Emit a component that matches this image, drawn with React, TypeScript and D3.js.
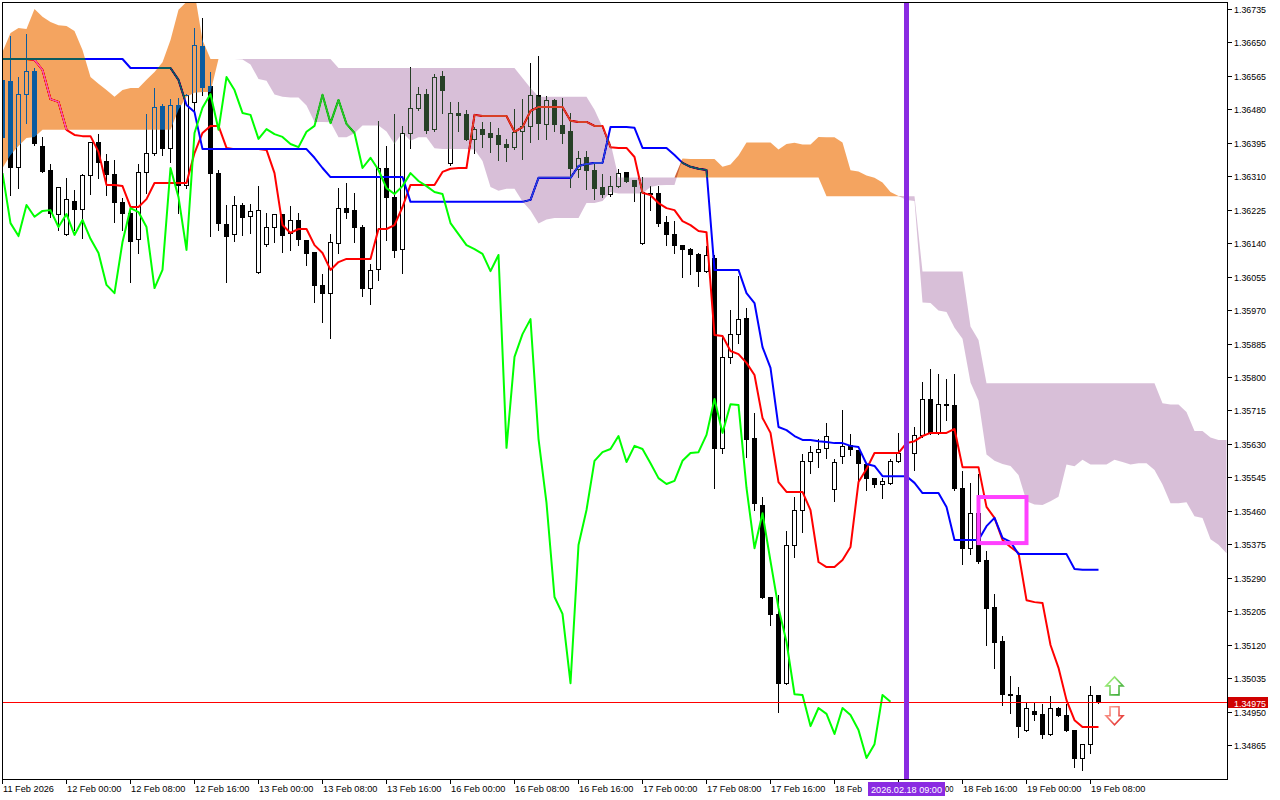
import React from "react";
import * as d3 from "d3";

// ---------- DATA (H1 bars, 11 Feb 2026 16:00 -> 19 Feb 2026 09:00) ----------
const OPEN = [
  1.36555,1.36552,1.36334,1.36519,1.36578,1.36387,1.36326,1.36214,1.36163,1.36247,
  1.36227,1.36313,1.36397,1.36349,1.36316,1.36245,1.36217,1.36151,1.36321,1.36369,
  1.36489,1.36382,1.36491,1.36288,1.36499,1.36641,1.36540,1.36318,1.36189,1.36163,
  1.36237,1.36209,1.36067,1.36138,1.36181,1.36214,1.36166,1.36199,1.36148,1.36118,
  1.36034,1.36013,1.36140,1.36229,1.36224,1.36181,1.36026,1.36074,1.36331,1.36257,
  1.36125,1.36420,1.36484,1.36519,1.36430,1.36565,1.36344,1.36471,1.36468,1.36405,
  1.36430,1.36420,1.36415,1.36392,1.36384,1.36425,1.36438,1.36517,1.36443,1.36504,
  1.36440,1.36425,1.36329,1.36359,1.36326,1.36283,1.36265,1.36285,1.36321,1.36301,
  1.36140,1.36268,1.36268,1.36194,1.36163,1.36135,1.36125,1.36113,1.36069,1.36102,
  1.35620,1.35851,1.35909,1.35950,1.35645,1.35475,1.35241,1.35198,1.35022,1.35373,
  1.35462,1.35587,1.35609,1.35620,1.35515,1.35599,1.35627,1.35614,1.35579,1.35543,
  1.35528,1.35531,1.35587,1.35594,1.35607,1.35653,1.35744,1.35658,1.35731,1.35729,
  1.35518,1.35365,1.35454,1.35335,1.35216,1.35129,1.34994,1.34992,1.34903,1.34951,
  1.34944,1.34893,1.34959,1.34941,1.34903,1.34832,1.34867,1.34992,
];
const HIGH = [
  1.36567,1.36669,1.36565,1.36674,1.36588,1.36412,1.36344,1.36285,1.36308,1.36278,
  1.36318,1.36400,1.36420,1.36369,1.36354,1.36257,1.36237,1.36344,1.36471,1.36537,
  1.36496,1.36509,1.36512,1.36522,1.36689,1.36715,1.36578,1.36329,1.36240,1.36262,
  1.36245,1.36242,1.36288,1.36219,1.36217,1.36217,1.36237,1.36219,1.36151,1.36120,
  1.36064,1.36166,1.36283,1.36295,1.36270,1.36189,1.36090,1.36453,1.36390,1.36471,
  1.36440,1.36590,1.36540,1.36534,1.36573,1.36580,1.36501,1.36501,1.36481,1.36438,
  1.36451,1.36451,1.36435,1.36407,1.36484,1.36509,1.36600,1.36618,1.36517,1.36509,
  1.36512,1.36473,1.36377,1.36377,1.36344,1.36318,1.36313,1.36331,1.36322,1.36302,
  1.36311,1.36288,1.36288,1.36212,1.36199,1.36136,1.36130,1.36118,1.36135,1.36113,
  1.35904,1.35973,1.36059,1.35978,1.35711,1.35498,1.35242,1.35249,1.35411,1.35498,
  1.35607,1.35627,1.35645,1.35686,1.35594,1.35719,1.35658,1.35617,1.35581,1.35546,
  1.35546,1.35594,1.35660,1.35640,1.35675,1.35790,1.35823,1.35810,1.35797,1.35810,
  1.35564,1.35533,1.35556,1.35360,1.35251,1.35144,1.35043,1.35015,1.34974,1.34974,
  1.34972,1.34992,1.34964,1.34972,1.34906,1.34870,1.35017,1.34994,
];
const LOW = [
  1.36402,1.36262,1.36280,1.36445,1.36390,1.36321,1.36207,1.36174,1.36161,1.36174,
  1.36153,1.36265,1.36306,1.36262,1.36194,1.36174,1.36041,1.36115,1.36268,1.36364,
  1.36364,1.36346,1.36217,1.36280,1.36479,1.36517,1.36158,1.36174,1.36041,1.36146,
  1.36161,1.36166,1.36064,1.36133,1.36143,1.36118,1.36123,1.36135,1.36085,1.35991,
  1.35940,1.35899,1.36115,1.36204,1.36143,1.36006,1.35985,1.36046,1.36148,1.36105,
  1.36064,1.36382,1.36479,1.36420,1.36425,1.36471,1.36339,1.36425,1.36402,1.36369,
  1.36384,1.36372,1.36351,1.36349,1.36379,1.36354,1.36397,1.36405,1.36405,1.36425,
  1.36395,1.36283,1.36308,1.36278,1.36252,1.36257,1.36260,1.36283,1.36296,1.36247,
  1.36138,1.36224,1.36184,1.36135,1.36115,1.36054,1.36062,1.36031,1.36067,1.35518,
  1.35607,1.35836,1.35886,1.35597,1.35462,1.35238,1.35170,1.34949,1.35020,1.35343,
  1.35406,1.35556,1.35571,1.35594,1.35485,1.35581,1.35602,1.35538,1.35513,1.35520,
  1.35493,1.35528,1.35584,1.35590,1.35564,1.35648,1.35655,1.35655,1.35691,1.35513,
  1.35325,1.35350,1.35327,1.35119,1.35061,1.34967,1.34946,1.34885,1.34900,1.34928,
  1.34883,1.34890,1.34939,1.34900,1.34809,1.34801,1.34845,1.34972,
];
const CLOSE = [
  1.36410,1.36334,1.36519,1.36578,1.36395,1.36323,1.36217,1.36283,1.36252,1.36227,
  1.36313,1.36397,1.36346,1.36316,1.36245,1.36217,1.36146,1.36321,1.36369,1.36486,
  1.36382,1.36491,1.36288,1.36517,1.36644,1.36537,1.36318,1.36191,1.36158,1.36237,
  1.36207,1.36222,1.36224,1.36181,1.36214,1.36161,1.36199,1.36151,1.36115,1.36034,
  1.36013,1.36143,1.36229,1.36219,1.36181,1.36026,1.36072,1.36331,1.36257,1.36123,
  1.36420,1.36484,1.36519,1.36428,1.36562,1.36529,1.36471,1.36466,1.36405,1.36430,
  1.36417,1.36410,1.36392,1.36384,1.36423,1.36438,1.36517,1.36445,1.36504,1.36443,
  1.36420,1.36331,1.36357,1.36326,1.36280,1.36265,1.36285,1.36318,1.36298,1.36285,
  1.36270,1.36265,1.36191,1.36163,1.36135,1.36125,1.36113,1.36069,1.36110,1.35620,
  1.35851,1.35909,1.35947,1.35643,1.35480,1.35241,1.35198,1.35022,1.35373,1.35462,
  1.35587,1.35609,1.35617,1.35650,1.35584,1.35625,1.35617,1.35581,1.35543,1.35528,
  1.35536,1.35587,1.35607,1.35609,1.35653,1.35744,1.35658,1.35731,1.35729,1.35518,
  1.35365,1.35454,1.35332,1.35213,1.35127,1.34994,1.34992,1.34913,1.34959,1.34944,
  1.34893,1.34959,1.34941,1.34903,1.34832,1.34867,1.34992,1.34975,
];
// Ichimoku lines
const TENKAN = [
  1.36608,1.36608,1.36608,1.36608,1.36606,1.36580,1.36506,1.36499,1.36428,1.36415,
  1.36412,1.36412,1.36372,1.36288,1.36288,1.36285,1.36232,1.36232,1.36252,1.36293,
  1.36293,1.36293,1.36293,1.36293,1.36369,1.36420,1.36438,1.36438,1.36382,1.36379,
  1.36379,1.36379,1.36379,1.36377,1.36318,1.36186,1.36166,1.36176,1.36176,1.36135,
  1.36115,1.36072,1.36092,1.36100,1.36100,1.36100,1.36100,1.36176,1.36176,1.36186,
  1.36232,1.36288,1.36288,1.36288,1.36288,1.36321,1.36329,1.36331,1.36331,1.36466,
  1.36463,1.36463,1.36463,1.36463,1.36423,1.36435,1.36476,1.36486,1.36486,1.36486,
  1.36486,1.36451,1.36448,1.36448,1.36438,1.36438,1.36384,1.36382,1.36382,1.36359,
  1.36268,1.36262,1.36242,1.36229,1.36224,1.36196,1.36186,1.36171,1.36168,1.35907,
  1.35904,1.35866,1.35858,1.35836,1.35805,1.35696,1.35658,1.35533,1.35508,1.35508,
  1.35508,1.35462,1.35330,1.35317,1.35317,1.35335,1.35368,1.35533,1.35566,1.35607,
  1.35607,1.35607,1.35607,1.35632,1.35637,1.35650,1.35658,1.35658,1.35658,1.35668,
  1.35571,1.35571,1.35571,1.35470,1.35442,1.35386,1.35368,1.35353,1.35233,1.35228,
  1.35226,1.35119,1.35061,1.34979,1.34928,1.34911,1.34911,1.34911,
];
const KIJUN = [
  1.36608,1.36608,1.36608,1.36608,1.36608,1.36608,1.36608,1.36608,1.36608,1.36608,
  1.36608,1.36608,1.36608,1.36608,1.36608,1.36608,1.36585,1.36585,1.36585,1.36585,
  1.36585,1.36585,1.36555,1.36491,1.36473,1.36379,1.36379,1.36379,1.36379,1.36379,
  1.36379,1.36379,1.36379,1.36379,1.36379,1.36379,1.36379,1.36379,1.36379,1.36357,
  1.36331,1.36308,1.36308,1.36308,1.36308,1.36308,1.36308,1.36308,1.36308,1.36308,
  1.36308,1.36245,1.36245,1.36245,1.36245,1.36245,1.36245,1.36245,1.36245,1.36245,
  1.36245,1.36245,1.36245,1.36245,1.36245,1.36245,1.36250,1.36306,1.36306,1.36306,
  1.36306,1.36306,1.36336,1.36341,1.36344,1.36344,1.36435,1.36435,1.36435,1.36433,
  1.36382,1.36382,1.36382,1.36382,1.36364,1.36344,1.36334,1.36329,1.36326,1.36072,
  1.36072,1.36072,1.36072,1.36013,1.35988,1.35876,1.35823,1.35673,1.35665,1.35650,
  1.35640,1.35640,1.35637,1.35635,1.35632,1.35632,1.35625,1.35622,1.35579,1.35574,
  1.35548,1.35548,1.35548,1.35548,1.35531,1.35505,1.35505,1.35505,1.35470,1.35386,
  1.35386,1.35386,1.35386,1.35421,1.35442,1.35391,1.35381,1.35350,1.35350,1.35350,
  1.35350,1.35350,1.35350,1.35350,1.35312,1.35310,1.35310,1.35310,
];
const CHIKOU = [
  1.36318,1.36191,1.36158,1.36237,1.36207,1.36222,1.36224,1.36181,1.36214,1.36161,
  1.36199,1.36151,1.36115,1.36034,1.36013,1.36143,1.36229,1.36219,1.36181,1.36026,
  1.36072,1.36331,1.36257,1.36123,1.36420,1.36484,1.36519,1.36428,1.36562,1.36529,
  1.36471,1.36466,1.36405,1.36430,1.36417,1.36410,1.36392,1.36384,1.36423,1.36438,
  1.36517,1.36445,1.36504,1.36443,1.36420,1.36331,1.36357,1.36326,1.36280,1.36265,
  1.36285,1.36318,1.36298,1.36285,1.36270,1.36265,1.36191,1.36163,1.36135,1.36125,
  1.36113,1.36069,1.36110,1.35620,1.35851,1.35909,1.35947,1.35643,1.35480,1.35241,
  1.35198,1.35022,1.35373,1.35462,1.35587,1.35609,1.35617,1.35650,1.35584,1.35625,
  1.35617,1.35581,1.35543,1.35528,1.35536,1.35587,1.35607,1.35609,1.35653,1.35744,
  1.35658,1.35731,1.35729,1.35518,1.35365,1.35454,1.35332,1.35213,1.35127,1.34994,
  1.34992,1.34913,1.34959,1.34944,1.34893,1.34959,1.34941,1.34903,1.34832,1.34867,
  1.34992,1.34975,
];
const SENKOU_A = [
  1.36626,1.36674,1.36687,1.36684,1.36735,1.36715,1.36702,1.36694,1.36692,1.36679,
  1.36631,1.36562,1.36545,1.36529,1.36512,1.36529,1.36534,1.36534,1.36555,1.36575,
  1.36600,1.36656,1.36733,1.36753,1.36778,1.36656,1.36608,1.36608,1.36608,1.36608,
  1.36607,1.36594,1.36557,1.36553,1.36518,1.36512,1.36510,1.36510,1.36490,1.36448,
  1.36448,1.36447,1.36409,1.36409,1.36419,1.36439,1.36439,1.36439,1.36424,1.36392,
  1.36421,1.36400,1.36409,1.36409,1.36381,1.36379,1.36379,1.36379,1.36379,1.36378,
  1.36349,1.36283,1.36273,1.36278,1.36278,1.36246,1.36223,1.36190,1.36200,1.36204,
  1.36204,1.36204,1.36204,1.36242,1.36242,1.36247,1.36270,1.36266,1.36266,1.36266,
  1.36266,1.36283,1.36287,1.36288,1.36288,1.36355,1.36354,1.36354,1.36354,1.36354,
  1.36334,1.36340,1.36363,1.36396,1.36396,1.36396,1.36396,1.36378,1.36392,1.36395,
  1.36391,1.36391,1.36410,1.36409,1.36409,1.36396,1.36325,1.36322,1.36312,1.36306,
  1.36294,1.36270,1.36260,1.36250,1.36247,1.35989,1.35988,1.35969,1.35965,1.35925,
  1.35897,1.35786,1.35740,1.35603,1.35587,1.35579,1.35574,1.35551,1.35484,1.35476,
  1.35475,1.35484,1.35496,1.35578,1.35573,1.35590,1.35578,1.35578,1.35578,1.35590,
  1.35584,1.35578,1.35581,1.35581,1.35564,1.35527,1.35479,1.35479,1.35482,1.35446,
  1.35442,1.35388,1.35374,1.35352,
];
const SENKOU_B = [
  1.36331,1.36364,1.36387,1.36407,1.36410,1.36428,1.36428,1.36428,1.36428,1.36428,
  1.36428,1.36428,1.36428,1.36428,1.36428,1.36428,1.36428,1.36428,1.36428,1.36428,
  1.36428,1.36428,1.36479,1.36512,1.36522,1.36524,1.36524,1.36608,1.36608,1.36608,
  1.36608,1.36608,1.36608,1.36608,1.36608,1.36608,1.36608,1.36608,1.36608,1.36608,
  1.36608,1.36608,1.36585,1.36585,1.36585,1.36585,1.36585,1.36585,1.36585,1.36585,
  1.36585,1.36585,1.36585,1.36585,1.36585,1.36585,1.36585,1.36585,1.36585,1.36585,
  1.36585,1.36585,1.36585,1.36585,1.36585,1.36560,1.36534,1.36512,1.36512,1.36512,
  1.36512,1.36512,1.36512,1.36512,1.36479,1.36435,1.36395,1.36307,1.36307,1.36307,
  1.36307,1.36307,1.36307,1.36307,1.36307,1.36307,1.36307,1.36307,1.36307,1.36307,
  1.36307,1.36307,1.36307,1.36307,1.36307,1.36307,1.36307,1.36307,1.36307,1.36307,
  1.36307,1.36307,1.36307,1.36259,1.36259,1.36259,1.36259,1.36259,1.36259,1.36259,
  1.36259,1.36259,1.36259,1.36259,1.36259,1.36068,1.36068,1.36068,1.36068,1.36068,
  1.36068,1.35928,1.35894,1.35784,1.35784,1.35784,1.35784,1.35784,1.35784,1.35784,
  1.35784,1.35784,1.35784,1.35784,1.35784,1.35784,1.35784,1.35784,1.35784,1.35784,
  1.35784,1.35784,1.35784,1.35784,1.35784,1.35733,1.35730,1.35730,1.35711,1.35663,
  1.35663,1.35646,1.35640,1.35640,
];

const PRICE_TICKS = [
  1.36735, 1.3665, 1.36565, 1.3648, 1.36395, 1.3631, 1.36225, 1.3614, 1.36055, 1.3597,
  1.35885, 1.358, 1.35715, 1.3563, 1.35545, 1.3546, 1.35375, 1.3529, 1.35205, 1.3512,
  1.35035, 1.3495, 1.34865,
];
const TIME_TICK_BARS = [0, 8, 16, 24, 32, 40, 48, 56, 64, 72, 80, 88, 96, 104, 112, 120, 128, 136];
const TIME_TICK_LABELS = [
  "11 Feb 2026", "12 Feb 00:00", "12 Feb 08:00", "12 Feb 16:00", "13 Feb 00:00", "13 Feb 08:00",
  "13 Feb 16:00", "16 Feb 00:00", "16 Feb 08:00", "16 Feb 16:00", "17 Feb 00:00", "17 Feb 08:00",
  "17 Feb 16:00", "18 Feb 00:00", "18 Feb 08:00", "18 Feb 16:00", "19 Feb 00:00", "19 Feb 08:00",
];
const CURRENT_PRICE = 1.34975;
const VLINE_BAR = 113;
const VLINE_LABEL = "2026.02.18 09:00";
const RECT_BARS = [122, 128];
const RECT_PRICES = [1.35495, 1.35378];
const ARROW_BAR = 139;
const ARROW_UP_PRICE = 1.35038;
const ARROW_DOWN_PRICE = 1.34962;

const FONT = "'Liberation Sans', Arial, sans-serif";
const LABEL_W = 54.5;
const BOX_W = 77;

export default function App() {
  const x = d3.scaleLinear().domain([0, 137]).range([2.5, 1098.5]);
  const y = d3.scaleLinear().domain([1.34865, 1.36735]).range([745, 9]);
  const ry = (p: number) => Math.round(y(p)) + 0.5;

  const line = d3
    .line<number>()
    .x((_, i) => x(i))
    .y((d) => y(d));

  const orange = d3
    .area<number>()
    .x((_, i) => x(i))
    .y0((_, i) => y(SENKOU_B[i]))
    .y1((_, i) => Math.min(y(SENKOU_A[i]), y(SENKOU_B[i])));
  const thistle = d3
    .area<number>()
    .x((_, i) => x(i))
    .y0((_, i) => y(SENKOU_A[i]))
    .y1((_, i) => Math.min(y(SENKOU_A[i]), y(SENKOU_B[i])));

  const priceY = ry(CURRENT_PRICE);
  const vx = x(VLINE_BAR);
  const ax = x(ARROW_BAR);
  const upTop = y(ARROW_UP_PRICE);
  const dnTop = y(ARROW_DOWN_PRICE);
  const boxL = vx - BOX_W / 2;
  const boxR = vx + BOX_W / 2;

  return (
    <svg
      width={1280}
      height={800}
      style={{ position: "absolute", left: 0, top: 0, display: "block", background: "#fff" }}
    >
      <defs>
        <clipPath id="plotClip">
          <rect x={3} y={3} width={1224} height={776} />
        </clipPath>
        <linearGradient id="gUp" x1="0" y1="0" x2="1" y2="1">
          <stop offset="0" stopColor="#b6ff8a" />
          <stop offset="1" stopColor="#2e9e2e" />
        </linearGradient>
        <linearGradient id="gDn" x1="0" y1="0" x2="1" y2="1">
          <stop offset="0" stopColor="#ffb0a0" />
          <stop offset="1" stopColor="#e02020" />
        </linearGradient>
      </defs>
      <rect x={0} y={0} width={1280} height={800} fill="#fff" />

      <g clipPath="url(#plotClip)">
        <rect x={0} y={0} width={1280} height={800} fill="#fff" />
        {/* candles */}
        <g shapeRendering="crispEdges">
          {OPEN.map((o, i) => {
            const cx = x(i);
            const c = CLOSE[i];
            const yO = ry(o);
            const yC = ry(c);
            const top = Math.min(yO, yC);
            const bot = Math.max(yO, yC);
            const bull = c >= o;
            return (
              <g key={i}>
                <line x1={cx} x2={cx} y1={ry(HIGH[i])} y2={ry(LOW[i]) + 0.5} stroke="#000" strokeWidth={1} />
                <path
                  d={`M${cx - 2},${top}H${cx + 2}V${bot}H${cx - 2}Z`}
                  fill={bull ? "#fff" : "#000"}
                  stroke="#000"
                  strokeWidth={1}
                />
              </g>
            );
          })}
        </g>
        {/* ichimoku lines */}
        <path d={line(TENKAN) || ""} fill="none" stroke="#ff0000" strokeWidth={2} strokeLinejoin="round" />
        <path d={line(KIJUN) || ""} fill="none" stroke="#0000ff" strokeWidth={2} strokeLinejoin="round" />
        <path d={line(CHIKOU) || ""} fill="none" stroke="#00ff00" strokeWidth={2} strokeLinejoin="round" />
        {/* cloud (XOR-like drawing) */}
        <path d={orange(SENKOU_A) || ""} fill="#0b5b9f" stroke="none" style={{ mixBlendMode: "difference" }} />
        <path d={thistle(SENKOU_A) || ""} fill="#274027" stroke="none" style={{ mixBlendMode: "difference" }} />

        {/* current price line */}
        <line x1={0} x2={1227} y1={priceY} y2={priceY} stroke="#ff0000" strokeWidth={1} shapeRendering="crispEdges" />

        {/* rectangle object */}
        <rect
          x={x(RECT_BARS[0])}
          y={y(RECT_PRICES[0])}
          width={x(RECT_BARS[1]) - x(RECT_BARS[0])}
          height={y(RECT_PRICES[1]) - y(RECT_PRICES[0])}
          fill="none"
          stroke="#ff40ff"
          strokeWidth={4}
        />

        {/* arrows */}
        <path
          d={`M${ax},${upTop} L${ax + 8.5},${upTop + 9} L${ax + 4.5},${upTop + 9} L${ax + 4.5},${upTop + 18} L${ax - 4.5},${upTop + 18} L${ax - 4.5},${upTop + 9} L${ax - 8.5},${upTop + 9} Z`}
          fill="#fff"
          stroke="url(#gUp)"
          strokeWidth={1.6}
          strokeLinejoin="miter"
        />
        <path
          d={`M${ax - 4.5},${dnTop} L${ax + 4.5},${dnTop} L${ax + 4.5},${dnTop + 9} L${ax + 8.5},${dnTop + 9} L${ax},${dnTop + 18} L${ax - 8.5},${dnTop + 9} L${ax - 4.5},${dnTop + 9} Z`}
          fill="#fff"
          stroke="url(#gDn)"
          strokeWidth={1.6}
          strokeLinejoin="miter"
        />

        {/* vertical line */}
        <line x1={vx} x2={vx} y1={0} y2={780} stroke="#8a2be2" strokeWidth={5} />
      </g>

      {/* frame */}
      <rect x={2.5} y={2.5} width={1225} height={777} fill="none" stroke="#000" strokeWidth={1} shapeRendering="crispEdges" />

      {/* right price axis */}
      {PRICE_TICKS.map((p) => {
        const ty = Math.round(y(p)) + 0.5;
        return (
          <g key={p}>
            <line x1={1227} x2={1232} y1={ty} y2={ty} stroke="#000" strokeWidth={1} shapeRendering="crispEdges" />
            <text
              x={1234}
              y={ty + 3.5}
              fontFamily={FONT}
              fontSize={9.5}
              fill="#000"
              textLength={32}
              lengthAdjust="spacingAndGlyphs"
            >
              {p.toFixed(5)}
            </text>
          </g>
        );
      })}
      {/* current price box */}
      <rect x={1228} y={priceY - 5.5} width={40} height={11} fill="#d00000" />
      <text
        x={1234}
        y={priceY + 4}
        fontFamily={FONT}
        fontSize={9.5}
        fill="#fff"
        textLength={32}
        lengthAdjust="spacingAndGlyphs"
      >
        {CURRENT_PRICE.toFixed(5)}
      </text>

      {/* bottom time axis */}
      {TIME_TICK_BARS.map((b, i) => {
        const tx = x(b);
        const label = TIME_TICK_LABELS[i];
        const start = tx + 0.5;
        const end = start + LABEL_W;
        const hiddenByBox = end > boxL && start < boxR;
        let text: React.ReactNode = null;
        if (!hiddenByBox) {
          text = (
            <text
              x={start}
              y={792}
              fontFamily={FONT}
              fontSize={9.5}
              fill="#000"
              textLength={i === 0 ? 51 : LABEL_W}
              lengthAdjust="spacingAndGlyphs"
            >
              {label}
            </text>
          );
        } else if (start < boxL) {
          // only the part left of the marker label stays visible
          const part = label.slice(0, 6);
          text = (
            <text x={start} y={792} fontFamily={FONT} fontSize={9.5} fill="#000" textLength={27} lengthAdjust="spacingAndGlyphs">
              {part}
            </text>
          );
        } else {
          // only the tail right of the marker label stays visible
          const part = label.slice(-2);
          text = (
            <text x={end} y={792} fontFamily={FONT} fontSize={9.5} fill="#000" textAnchor="end" textLength={8.5} lengthAdjust="spacingAndGlyphs">
              {part}
            </text>
          );
        }
        return (
          <g key={b}>
            <line x1={tx} x2={tx} y1={779} y2={784} stroke="#000" strokeWidth={1} shapeRendering="crispEdges" />
            {text}
          </g>
        );
      })}
      {/* vertical line time label */}
      <rect x={boxL} y={782} width={BOX_W} height={14} fill="#8a2be2" />
      <text
        x={vx}
        y={792.5}
        fontFamily={FONT}
        fontSize={9.5}
        fill="#fff"
        textAnchor="middle"
        textLength={71}
        lengthAdjust="spacingAndGlyphs"
      >
        {VLINE_LABEL}
      </text>
    </svg>
  );
}
